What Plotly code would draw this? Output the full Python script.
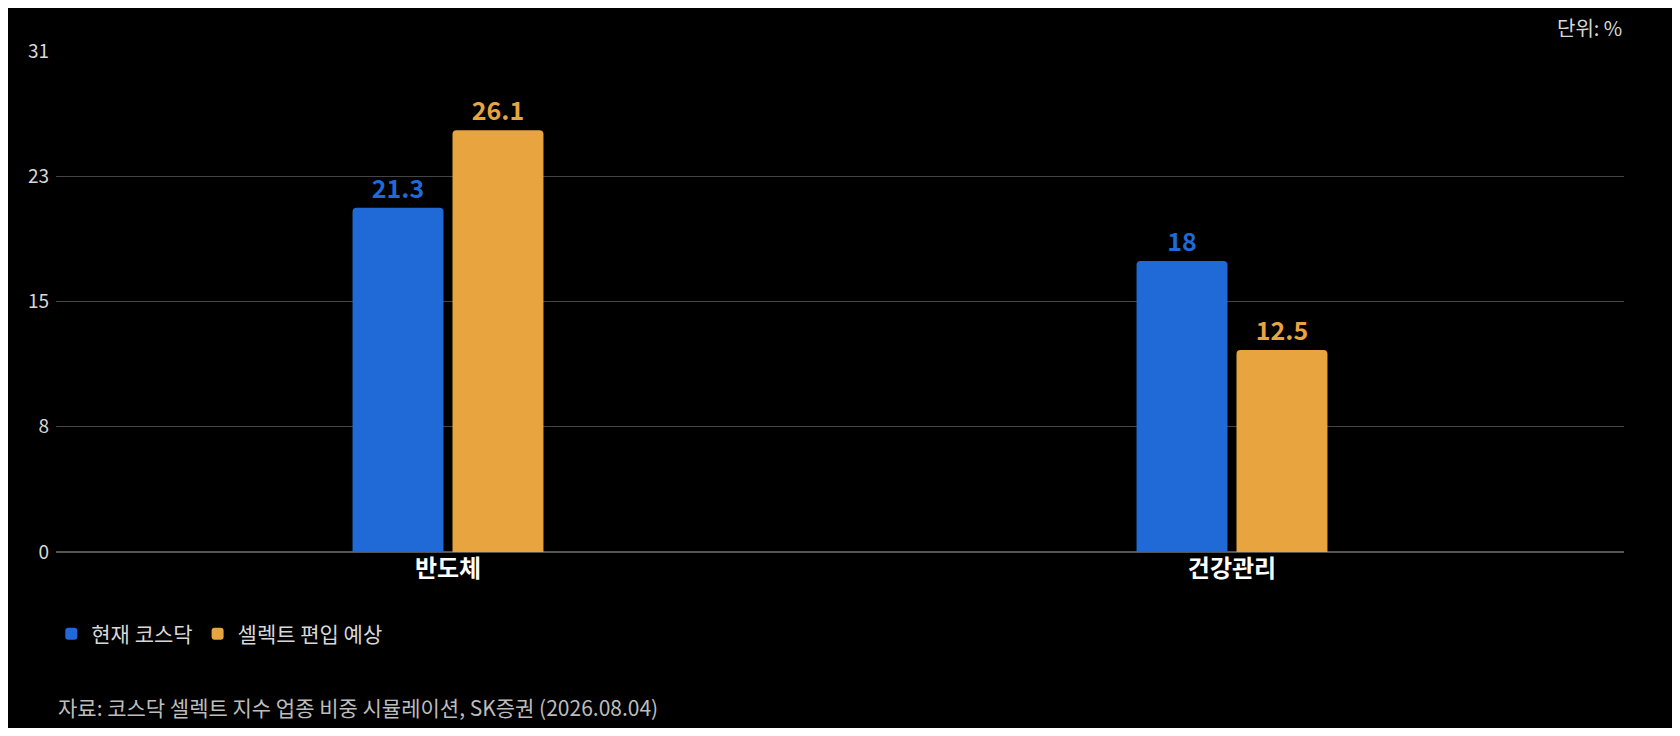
import plotly.graph_objects as go

categories = ["반도체", "건강관리"]
current = [21.3, 18]
select = [26.1, 12.5]
series_names = ["현재 코스닥", "셀렉트 편입 예상"]
tick_vals = [0, 7.75, 15.5, 23.25, 31]
tick_text = ["0", "8", "15", "23", "31"]

BLUE = "#1f6ad6"
ORANGE = "#e8a43e"
FONT = "Noto Sans CJK KR"

fig = go.Figure()
for name, vals, col in [(series_names[0], current, BLUE), (series_names[1], select, ORANGE)]:
    fig.add_trace(go.Bar(
        x=categories, y=vals, name=name, marker_color=col, marker_line_width=0,
        text=[f"{v:g}" for v in vals], textposition="outside", cliponaxis=False,
        textfont=dict(color=col, size=25, family=FONT, weight="bold"),
    ))

fig.update_layout(
    width=1664, height=720, paper_bgcolor="black", plot_bgcolor="black",
    font=dict(family=FONT, color="#d8d8d8", size=19),
    margin=dict(l=48, r=48, t=43, b=176),
    barmode="group", bargap=0.745, bargroupgap=0.09, barcornerradius=4,
    showlegend=True,
    legend=dict(orientation="h", x=-0.003, xanchor="left", y=-0.164, yanchor="middle",
                font=dict(size=21, color="#d8d8d8"), itemwidth=30, traceorder="normal"),
    xaxis=dict(showgrid=False, showline=False, ticks="",
               tickfont=dict(size=24, color="white", weight="bold")),
    yaxis=dict(range=[0, 31], tickvals=tick_vals, ticktext=tick_text,
               gridcolor="#444444", gridwidth=1, zeroline=True, zerolinecolor="#555555",
               showline=False, ticks="", tickfont=dict(size=19, color="#d8d8d8"),
               ticklabelstandoff=6),
    annotations=[
        dict(text="단위: %", xref="paper", yref="paper", x=1, y=1.0, yshift=24,
             xanchor="right", yanchor="middle", showarrow=False,
             font=dict(size=20, color="#d8d8d8")),
        dict(text="자료: 코스닥 셀렉트 지수 업종 비중 시뮬레이션, SK증권 (2026.08.04)",
             xref="paper", yref="paper", x=0, y=0, yshift=-155, xanchor="left",
             yanchor="middle", showarrow=False, font=dict(size=21, color="#bdbdbd")),
    ],
)
fig.write_html("out.html")
